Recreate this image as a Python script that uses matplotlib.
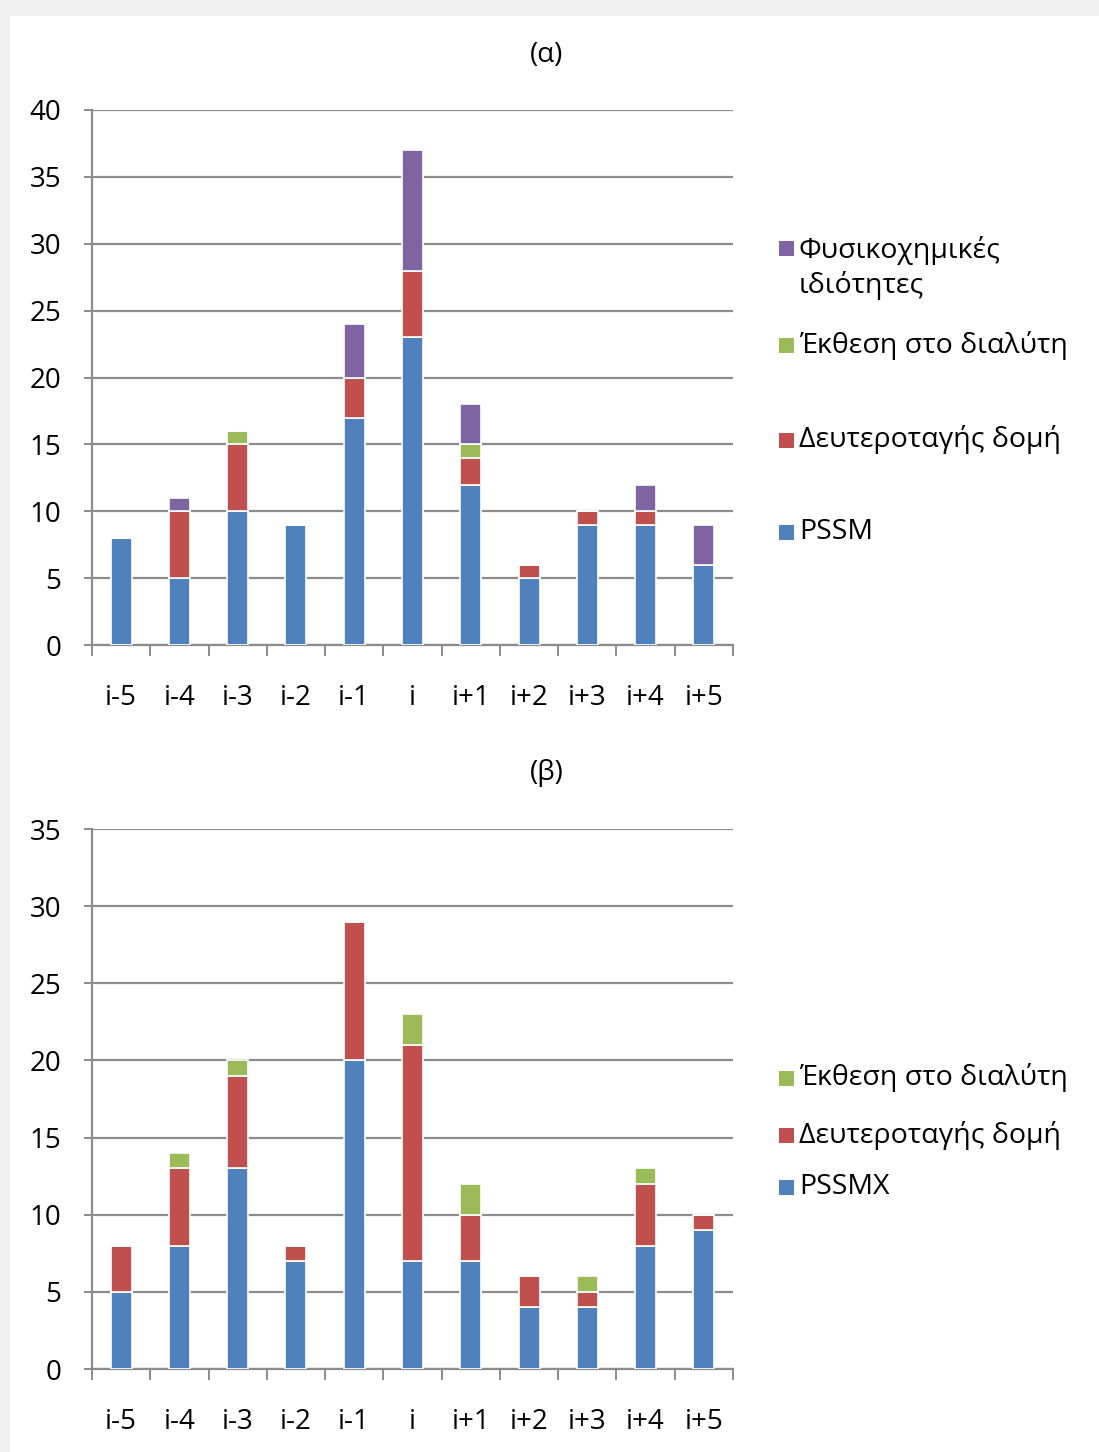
"""
Stacked bar charts (α) and (β): feature contributions per window position.
"""

import matplotlib
matplotlib.use("Agg")
import matplotlib.pyplot as plt
from matplotlib.patches import Rectangle
import numpy as np

plt.rcParams["font.family"] = ["Open Sans", "DejaVu Sans"]

positions = ["i-5", "i-4", "i-3", "i-2", "i-1", "i", "i+1", "i+2", "i+3", "i+4", "i+5"]

# (α)
a_pssm = [8, 5, 10, 9, 17, 23, 12, 5, 9, 9, 6]
a_sec = [0, 5, 5, 0, 3, 5, 2, 1, 1, 1, 0]
a_sol = [0, 0, 1, 0, 0, 0, 1, 0, 0, 0, 0]
a_phys = [0, 1, 0, 0, 4, 9, 3, 0, 0, 2, 3]

# (β)
b_pssmx = [5, 8, 13, 7, 20, 7, 7, 4, 4, 8, 9]
b_sec = [3, 5, 6, 1, 9, 14, 3, 2, 1, 4, 1]
b_sol = [0, 1, 1, 0, 0, 2, 2, 0, 1, 1, 0]

BLUE = "#4F81BD"
RED = "#C0504D"
GREEN = "#9BBB59"
PURPLE = "#8064A2"
GRID = "#8c8c8c"

W, H = 1099, 1452
fig = plt.figure(figsize=(W / 100, H / 100), dpi=100)
fig.patch.set_facecolor("#efefef")
fig.patches.append(Rectangle((10 / W, 0), 1, 1 - 16 / H, transform=fig.transFigure,
                             facecolor="white", edgecolor="none", zorder=-5))


def px_axes(left, top, right, bottom):
    ax = fig.add_axes([left / W, 1 - bottom / H, (right - left) / W, (bottom - top) / H])
    ax.patch.set_visible(False)
    return ax


def style_axes(ax, ymax):
    x = np.arange(len(positions))
    ax.set_xlim(-0.5, len(positions) - 0.5)
    ax.set_ylim(0, ymax)
    ax.set_yticks(np.arange(0, ymax + 1, 5))
    ax.yaxis.grid(True, color=GRID, linewidth=1.6)
    ax.set_axisbelow(True)
    for s in ["top", "right"]:
        ax.spines[s].set_visible(False)
    for s in ["left", "bottom"]:
        ax.spines[s].set_color(GRID)
        ax.spines[s].set_linewidth(1.6)
    ax.set_xticks(x)
    ax.set_xticklabels(positions)
    ax.set_xticks(np.arange(-0.5, len(positions)), minor=True)
    ax.tick_params(axis="x", which="major", length=0, pad=28, labelsize=20, colors="#000000")
    ax.tick_params(axis="x", which="minor", length=8, width=1.4, color=GRID, direction="out")
    ax.tick_params(axis="y", length=6, width=1.4, color=GRID, pad=16, labelsize=20,
                   labelcolor="#000000")


def stack(ax, series, colors):
    x = np.arange(len(positions))
    bottom = np.zeros(len(positions))
    for vals, c in zip(series, colors):
        vals = np.array(vals, dtype=float)
        ax.bar(x, vals, 0.36, bottom=bottom, color=c, edgecolor="white", linewidth=1.2,
               zorder=3)
        bottom += vals


def legend(entries, x_px):
    for y_px, text, color in entries:
        fig.patches.append(Rectangle(((x_px - 8) / W, 1 - (y_px + 8) / H), 15 / W, 15 / H,
                                     transform=fig.transFigure, facecolor=color,
                                     edgecolor="none"))
        fig.text((x_px + 12) / W, 1 - y_px / H, text, fontsize=20.5, va="center",
                 ha="left", linespacing=1.3)


# (α)
ax1 = px_axes(92, 110, 733, 645)
style_axes(ax1, 40)
stack(ax1, [a_pssm, a_sec, a_sol, a_phys], [BLUE, RED, GREEN, PURPLE])
fig.text(547 / W, 1 - 55 / H, "(α)", fontsize=20, ha="center", va="center")
legend([(268, "Φυσικοχημικές\nιδιότητες", PURPLE),
        (345, "Έκθεση στο διαλύτη", GREEN),
        (440, "Δευτεροταγής δομή", RED),
        (532, "PSSM", BLUE)], 787)
# first label's marker sits by its first line
fig.patches[1].set_y(1 - (248 + 8) / H)

# (β)
ax2 = px_axes(92, 829, 733, 1369)
style_axes(ax2, 35)
stack(ax2, [b_pssmx, b_sec, b_sol], [BLUE, RED, GREEN])
fig.text(547 / W, 1 - 773 / H, "(β)", fontsize=20, ha="center", va="center")
legend([(1078, "Έκθεση στο διαλύτη", GREEN),
        (1135, "Δευτεροταγής δομή", RED),
        (1187, "PSSMX", BLUE)], 787)

fig.savefig("out.png", dpi=100)
